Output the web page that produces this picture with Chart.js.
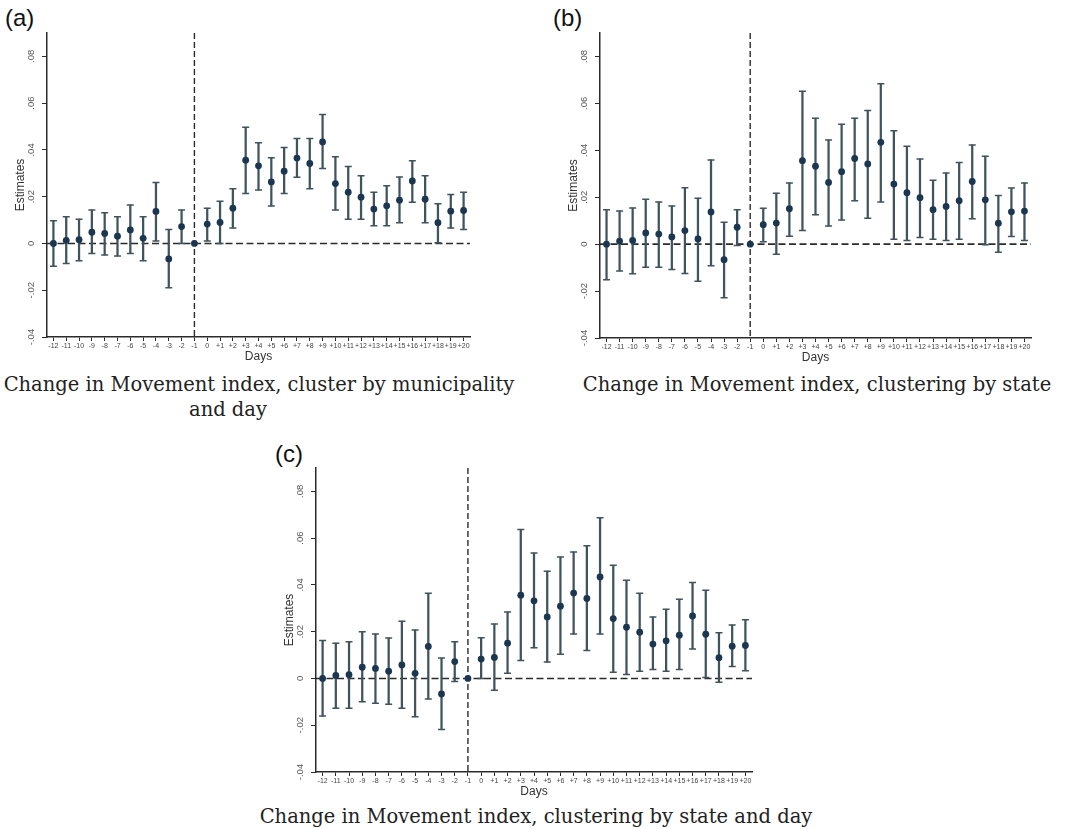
<!DOCTYPE html>
<html>
<head>
<meta charset="utf-8">
<script src="https://cdn.jsdelivr.net/npm/chart.js@4.4.1/dist/chart.umd.min.js"></script>
<style>
    body { margin: 0; background: #fff; width: 1069px; height: 829px; position: relative; overflow: hidden; }
    canvas { position: absolute; }
    .tag { position: absolute; font: 24px "Liberation Sans", Arial, sans-serif; color: #111; line-height: 28px; }
    .cap { position: absolute; font-family: "DejaVu Serif", serif; font-size: 19.5px; line-height: 22px; color: #222; white-space: nowrap; transform: translateX(-50%); }
</style>
</head>
<body>
<div class="tag" style="left:5px;top:4px">(a)</div>
<div class="tag" style="left:553px;top:4px">(b)</div>
<div class="tag" style="left:275px;top:440px">(c)</div>

<canvas id="chartA" width="540" height="365" style="left:0;top:0"></canvas>
<canvas id="chartB" width="524" height="366" style="left:545px;top:0"></canvas>
<canvas id="chartC" width="500" height="365" style="left:269px;top:435px"></canvas>

<div class="cap" style="left:259px;top:374px">Change in Movement index, cluster by municipality</div>
<div class="cap" style="left:228px;top:399px">and day</div>
<div class="cap" style="left:817px;top:374px">Change in Movement index, clustering by state</div>
<div class="cap" style="left:536px;top:806px">Change in Movement index, clustering by state and day</div>

<script>
// Days relative to the event
const days = ['-12', '-11', '-10', '-9', '-8', '-7', '-6', '-5', '-4', '-3', '-2', '-1',
    '0', '+1', '+2', '+3', '+4', '+5', '+6', '+7', '+8', '+9', '+10',
    '+11', '+12', '+13', '+14', '+15', '+16', '+17', '+18', '+19', '+20'];
const eventDay = '-1';

// Point estimates (same in the three specifications)
const estimates = [0.0000, 0.0013, 0.0016, 0.0048, 0.0043, 0.0031, 0.0058, 0.0022, 0.0137, -0.0066, 0.0072, 0.0000,
    0.0083, 0.0090, 0.0151, 0.0356, 0.0332, 0.0263, 0.0309, 0.0365, 0.0342, 0.0434, 0.0256,
    0.0219, 0.0198, 0.0147, 0.0161, 0.0185, 0.0267, 0.0189, 0.0089, 0.0138, 0.0141];

// (a) cluster by municipality and day
const lowA = [-0.0097, -0.0086, -0.0074, -0.0043, -0.0049, -0.0054, -0.0043, -0.0074, 0.0011, -0.0189, 0.0000, null,
    0.0011, 0.0000, 0.0066, 0.0214, 0.0229, 0.0160, 0.0214, 0.0283, 0.0234, 0.0321, 0.0143,
    0.0104, 0.0104, 0.0076, 0.0076, 0.0089, 0.0176, 0.0089, 0.0003, 0.0066, 0.0060];
const highA = [0.0097, 0.0114, 0.0104, 0.0143, 0.0131, 0.0114, 0.0164, 0.0114, 0.0261, 0.0060, 0.0143, null,
    0.0151, 0.0180, 0.0234, 0.0497, 0.0431, 0.0366, 0.0410, 0.0449, 0.0449, 0.0551, 0.0371,
    0.0329, 0.0290, 0.0219, 0.0247, 0.0284, 0.0354, 0.0290, 0.0170, 0.0209, 0.0219];

// (b) clustering by state
const lowB = [-0.0152, -0.0114, -0.0126, -0.0098, -0.0098, -0.0108, -0.0125, -0.0158, -0.0092, -0.0228, -0.0006, null,
    0.0010, -0.0043, 0.0034, 0.0058, 0.0125, 0.0077, 0.0103, 0.0185, 0.0110, 0.0180, 0.0021,
    0.0016, 0.0028, 0.0021, 0.0016, 0.0021, 0.0108, -0.0003, -0.0034, 0.0033, 0.0016];
const highB = [0.0147, 0.0141, 0.0154, 0.0191, 0.0180, 0.0163, 0.0240, 0.0196, 0.0359, 0.0093, 0.0147, null,
    0.0153, 0.0217, 0.0261, 0.0652, 0.0537, 0.0444, 0.0511, 0.0537, 0.0570, 0.0684, 0.0483,
    0.0417, 0.0363, 0.0272, 0.0303, 0.0348, 0.0423, 0.0375, 0.0207, 0.0239, 0.0261];

// (c) clustering by state and day
const lowC = [-0.0161, -0.0127, -0.0127, -0.0100, -0.0106, -0.0110, -0.0127, -0.0164, -0.0088, -0.0218, -0.0013, null,
    0.0000, -0.0050, 0.0022, 0.0077, 0.0131, 0.0070, 0.0104, 0.0190, 0.0120, 0.0190, 0.0027,
    0.0017, 0.0031, 0.0038, 0.0031, 0.0038, 0.0126, 0.0004, -0.0016, 0.0051, 0.0033];
const highC = [0.0162, 0.0151, 0.0157, 0.0200, 0.0190, 0.0173, 0.0245, 0.0207, 0.0364, 0.0087, 0.0157, null,
    0.0174, 0.0233, 0.0284, 0.0637, 0.0536, 0.0459, 0.0519, 0.0541, 0.0567, 0.0687, 0.0484,
    0.0420, 0.0364, 0.0263, 0.0296, 0.0339, 0.0410, 0.0377, 0.0196, 0.0229, 0.0251];

const yTicks = [-0.04, -0.02, 0, 0.02, 0.04, 0.06, 0.08];
const yMin = -0.04;
const yMax = 0.09;

const axisColor = '#2b2b2b';
const barColor = '#3f545c';
const dotColor = '#1b3650';
const sansFont = '"Liberation Sans", Arial, sans-serif';

// Stata-style tick labels: ".04", "-.02", "0"
function fmtTick(v) {
    if (Math.abs(v) < 1e-9) return '0';
    return (v < 0 ? '-' : '') + Math.abs(v).toFixed(2).replace(/^0/, '');
}

// Dashed zero line and dashed event-day line
const refLines = {
    id: 'refLines',
    beforeDatasetsDraw(chart) {
        const { ctx, chartArea, scales } = chart;
        const y0 = scales.y.getPixelForValue(0);
        const xe = scales.x.getPixelForValue(days.indexOf(eventDay));
        ctx.save();
        ctx.strokeStyle = axisColor;
        ctx.lineWidth = 1.6;
        ctx.setLineDash([7, 3.5]);
        ctx.beginPath();
        ctx.moveTo(chartArea.left, y0);
        ctx.lineTo(chartArea.right, y0);
        ctx.stroke();
        ctx.lineWidth = 1.4;
        ctx.setLineDash([6, 3]);
        ctx.beginPath();
        ctx.moveTo(xe, chartArea.top);
        ctx.lineTo(xe, chartArea.bottom);
        ctx.stroke();
        ctx.restore();
    }
};

function makeChart(id, low, high, pad, xHeight) {
    const ctx = document.getElementById(id).getContext('2d');
    const capStyle = {
        type: 'line',
        showLine: false,
        pointStyle: 'line',
        pointRadius: 3.5,
        pointBorderWidth: 1.5,
        pointBorderColor: barColor,
        pointBackgroundColor: barColor
    };
    new Chart(ctx, {
        type: 'bar',
        data: {
            labels: days,
            datasets: [
                {
                    type: 'line',
                    data: estimates,
                    showLine: false,
                    pointRadius: 3.4,
                    pointBorderWidth: 0,
                    pointBackgroundColor: dotColor
                },
                Object.assign({ data: high }, capStyle),
                Object.assign({ data: low }, capStyle),
                {
                    data: days.map((d, i) => low[i] === null ? null : [low[i], high[i]]),
                    backgroundColor: barColor,
                    barThickness: 1.6
                }
            ]
        },
        options: {
            responsive: false,
            animation: false,
            layout: { padding: pad },
            plugins: { legend: { display: false }, tooltip: { enabled: false } },
            scales: {
                x: {
                    offset: true,
                    grid: { display: true, drawOnChartArea: false, drawTicks: true, tickLength: 4, color: axisColor, offset: false },
                    border: { display: true, color: axisColor, width: 1.5 },
                    ticks: { autoSkip: false, maxRotation: 0, minRotation: 0, padding: 1, color: '#444', font: { family: sansFont, size: 7 } },
                    title: { display: true, text: 'Days', color: '#333', font: { family: sansFont, size: 12 }, padding: { top: 0, bottom: 1 } },
                    afterFit(scale) { scale.height = xHeight; }
                },
                y: {
                    min: yMin,
                    max: yMax,
                    afterBuildTicks(scale) { scale.ticks = yTicks.map(v => ({ value: v })); },
                    grid: { display: true, drawOnChartArea: false, drawTicks: true, tickLength: 5, color: axisColor },
                    border: { display: true, color: axisColor, width: 1.5 },
                    ticks: { minRotation: 90, maxRotation: 90, crossAlign: 'center', padding: 2, color: '#555',
                        font: { family: sansFont, size: 9.5 }, callback: v => fmtTick(v) },
                    title: { display: true, text: 'Estimates', color: '#333', font: { family: sansFont, size: 12 }, padding: { top: 13, bottom: 0 } },
                    afterFit(scale) { scale.width = 47; }
                }
            }
        },
        plugins: [refLines]
    });
}

makeChart('chartA', lowA, highA, { left: 0, top: 33, right: 70, bottom: 0 }, 28);
makeChart('chartB', lowB, highB, { left: 8, top: 33, right: 38, bottom: 0 }, 28);
makeChart('chartC', lowC, highC, { left: 0, top: 33, right: 17, bottom: 0 }, 28);
</script>
</body>
</html>
